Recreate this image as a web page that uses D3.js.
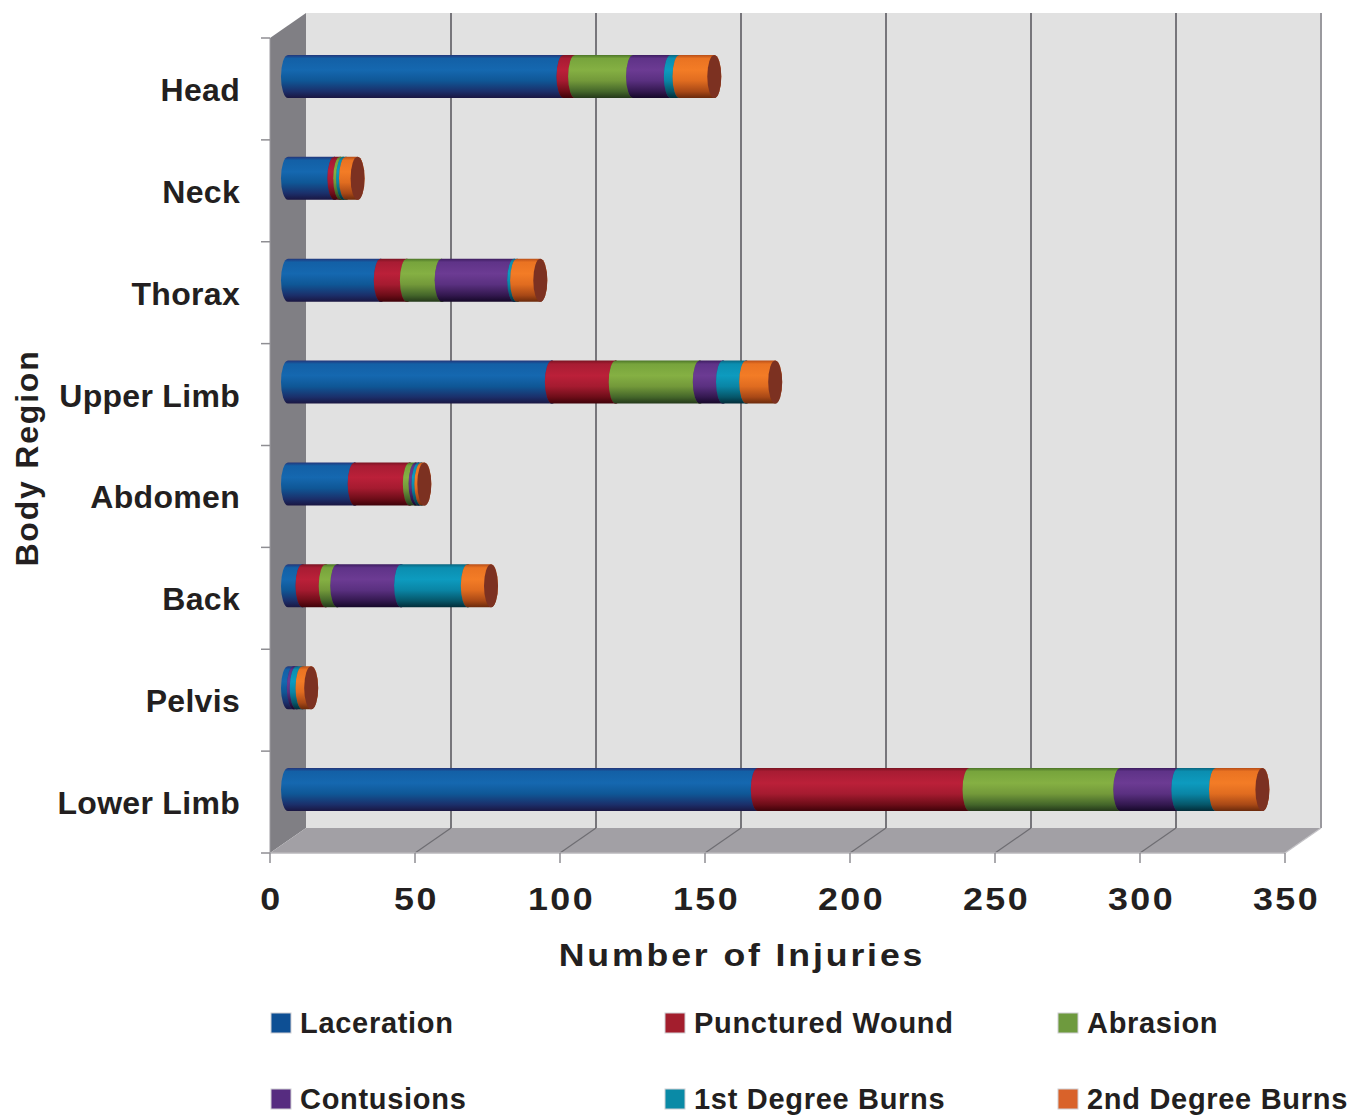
<!DOCTYPE html>
<html>
<head>
<meta charset="utf-8">
<script src="https://cdn.jsdelivr.net/npm/d3@7"></script>
<style>
  html, body { margin: 0; padding: 0; background: #ffffff; }
  svg text { font-family: "Liberation Sans", Arial, Helvetica, sans-serif; font-weight: bold; fill: #231f20; }
</style>
</head>
<body>
<svg id="chart" width="1349" height="1116"></svg>
<script>
// Injury counts by body region, one array per injury type
const categories = ["Head", "Neck", "Thorax", "Upper Limb", "Abdomen", "Back", "Pelvis", "Lower Limb"];
const seriesNames = ["Laceration", "Punctured Wound", "Abrasion", "Contusions", "1st Degree Burns", "2nd Degree Burns"];
const laceration       = [95, 16, 32, 91, 23, 5, 2, 162];
const puncturedWound   = [4, 2, 9, 22, 19, 8, 0, 73];
const abrasion         = [20, 1, 12, 29, 2, 4, 0, 52];
const contusions       = [13, 0, 25, 8, 1, 22, 1, 20];
const firstDegreeBurns = [3, 1, 1, 8, 1, 23, 2, 13];
const secondDegreeBurns = [12, 4, 8, 10, 1, 8, 3, 16];
const xTicks = [0, 50, 100, 150, 200, 250, 300, 350];
const xTitle = "Number of Injuries";
const yTitle = "Body Region";

const seriesValues = [laceration, puncturedWound, abrasion, contusions, firstDegreeBurns, secondDegreeBurns];

// cylinder shading: vertical gradient stops and end-cap colour per series
const shades = [
  { stops: ["#23367a", "#1360a6", "#1568b0", "#0f5796", "#1b2f6a", "#1a1642"], cap: "#1e3f85", key: "#0d4f94" },
  { stops: ["#7a1422", "#a81c33", "#bb2039", "#a51b30", "#6d0d18", "#3f0209"], cap: "#8a1a2a", key: "#a31e2d" },
  { stops: ["#4c7528", "#77a43c", "#85b043", "#73993a", "#44662a", "#24381a"], cap: "#5a7f30", key: "#6e9a3e" },
  { stops: ["#3d1d60", "#5f3388", "#6c3b93", "#5a3080", "#33184f", "#150828"], cap: "#4a2570", key: "#562c80" },
  { stops: ["#0a6680", "#0b8eb0", "#0d9bbf", "#0a85a5", "#065669", "#022c38"], cap: "#0a6f88", key: "#0a8aa6" },
  { stops: ["#b84e18", "#ea7322", "#f37c26", "#e06c20", "#a84816", "#6a2a0c"], cap: "#7c3121", key: "#d9622a" }
];
const stopOffsets = [0, 0.08, 0.35, 0.6, 0.85, 1];

const svg = d3.select("#chart");

// front plane of the 3-D box, plus the depth vector to the back wall
const x = d3.scaleLinear().domain([0, 350]).range([270, 1285]);
const y = d3.scaleBand().domain(categories).range([38, 853]).padding(0);
const depth = { dx: 36, dy: -25 };
const mid = { dx: depth.dx / 2, dy: depth.dy / 2 };

const defs = svg.append("defs");
shades.forEach((s, i) => {
  const g = defs.append("linearGradient")
    .attr("id", "cyl" + i).attr("x1", 0).attr("y1", 0).attr("x2", 0).attr("y2", 1);
  s.stops.forEach((c, k) => g.append("stop").attr("offset", stopOffsets[k]).attr("stop-color", c));
});

const x0 = x(0), x350 = x(350);
const yTop = y.range()[0], yBot = y.range()[1];

// back wall
svg.append("polygon")
  .attr("points", [[x0 + depth.dx, yTop + depth.dy], [x350 + depth.dx, yTop + depth.dy],
                   [x350 + depth.dx, yBot + depth.dy], [x0 + depth.dx, yBot + depth.dy]].join(" "))
  .attr("fill", "#e1e1e1");

// side wall
svg.append("polygon")
  .attr("points", [[x0, yTop], [x0 + depth.dx, yTop + depth.dy], [x0 + depth.dx, yBot + depth.dy], [x0, yBot]].join(" "))
  .attr("fill", "#807f84");

// floor
svg.append("polygon")
  .attr("points", [[x0, yBot], [x0 + depth.dx, yBot + depth.dy], [x350 + depth.dx, yBot + depth.dy], [x350, yBot]].join(" "))
  .attr("fill", "#a2a0a5");

// gridlines on the back wall and across the floor
const grid = svg.append("g");
grid.selectAll("line.wall").data(xTicks.slice(1)).join("line")
  .attr("class", "wall")
  .attr("x1", d => x(d) + depth.dx).attr("x2", d => x(d) + depth.dx)
  .attr("y1", yTop + depth.dy).attr("y2", yBot + depth.dy)
  .attr("stroke", d => d === 350 ? "#9a999e" : "#77767b").attr("stroke-width", 2);
grid.selectAll("line.floor").data(xTicks.slice(1)).join("line")
  .attr("class", "floor")
  .attr("x1", d => x(d) + depth.dx).attr("x2", d => x(d))
  .attr("y1", yBot + depth.dy).attr("y2", yBot)
  .attr("stroke", d => d === 350 ? "#c4c3c7" : "#6e6d72").attr("stroke-width", 1.2);

// front edges and ticks
svg.append("line").attr("x1", x0).attr("x2", x350).attr("y1", yBot).attr("y2", yBot)
  .attr("stroke", "#b8b7bb").attr("stroke-width", 1.5);
svg.append("line").attr("x1", x0).attr("x2", x0).attr("y1", yTop).attr("y2", yBot)
  .attr("stroke", "#9c9ba0").attr("stroke-width", 1);
svg.selectAll("line.xtick").data(xTicks).join("line")
  .attr("class", "xtick")
  .attr("x1", d => x(d)).attr("x2", d => x(d)).attr("y1", yBot).attr("y2", yBot + 10)
  .attr("stroke", "#8f8e93").attr("stroke-width", 1.5);
const bandEdges = categories.map(c => y(c)).concat([yBot]);
svg.selectAll("line.ytick").data(bandEdges).join("line")
  .attr("class", "ytick")
  .attr("x1", x0 - 9).attr("x2", x0).attr("y1", d => d).attr("y2", d => d)
  .attr("stroke", "#8f8e93").attr("stroke-width", 1.5);

// stacked cylinders
const table = categories.map((c, i) => {
  const row = { category: c };
  seriesNames.forEach((s, k) => { row[s] = seriesValues[k][i]; });
  return row;
});
const stacked = d3.stack().keys(seriesNames)(table);

const ry = 21.5, rx = 7;
function segmentPath(a, b, cy) {
  const t = cy - ry, btm = cy + ry;
  return `M${a},${t} L${b},${t} A${rx},${ry} 0 0 1 ${b},${btm} L${a},${btm} A${rx},${ry} 0 0 1 ${a},${t} Z`;
}

const bars = svg.append("g");
categories.forEach((c, i) => {
  const cy = y(c) + y.bandwidth() / 2 + mid.dy;
  stacked.forEach((layer, k) => {
    const [v0, v1] = layer[i];
    if (v1 - v0 <= 0) return;
    const a = x(v0) + mid.dx, b = x(v1) + mid.dx;
    bars.append("path").attr("d", segmentPath(a, b, cy)).attr("fill", `url(#cyl${k})`);
    bars.append("ellipse").attr("cx", b).attr("cy", cy).attr("rx", rx).attr("ry", ry)
      .attr("fill", shades[k].cap);
  });
});

// tick labels (wide bold face)
svg.selectAll("text.xlab").data(xTicks).join("text")
  .attr("class", "xlab")
  .attr("transform", d => `translate(${x(d) + 1.5},910) scale(1.12,1)`)
  .attr("text-anchor", "middle")
  .style("font-size", "32px").style("letter-spacing", "2.2px")
  .text(d => d);

svg.selectAll("text.ylab").data(categories).join("text")
  .attr("class", "ylab")
  .attr("x", 240).attr("y", d => y(d) + y.bandwidth() / 2 + 12)
  .attr("text-anchor", "end")
  .style("font-size", "32px").style("letter-spacing", "0.3px")
  .text(d => d);

// axis titles
svg.append("text")
  .attr("transform", "translate(742,966) scale(1.15,1)")
  .attr("text-anchor", "middle")
  .style("font-size", "31px").style("letter-spacing", "2.5px")
  .text(xTitle);

svg.append("text")
  .attr("transform", "translate(38,458) rotate(-90)")
  .attr("text-anchor", "middle")
  .style("font-size", "32px").style("letter-spacing", "1.8px")
  .text(yTitle);

// legend: two rows of three
const legendCols = [271, 665, 1058];
const legendRows = [1013, 1089];
const legend = svg.append("g");
seriesNames.forEach((name, k) => {
  const lx = legendCols[k % 3], ly = legendRows[Math.floor(k / 3)];
  legend.append("rect").attr("x", lx).attr("y", ly).attr("width", 20).attr("height", 20)
    .attr("fill", shades[k].key).attr("stroke", "#d0cfd4").attr("stroke-width", 1);
  legend.append("text").attr("x", lx + 29).attr("y", ly + 20)
    .style("font-size", "29px").style("letter-spacing", "0.7px")
    .text(name);
});
</script>
</body>
</html>
